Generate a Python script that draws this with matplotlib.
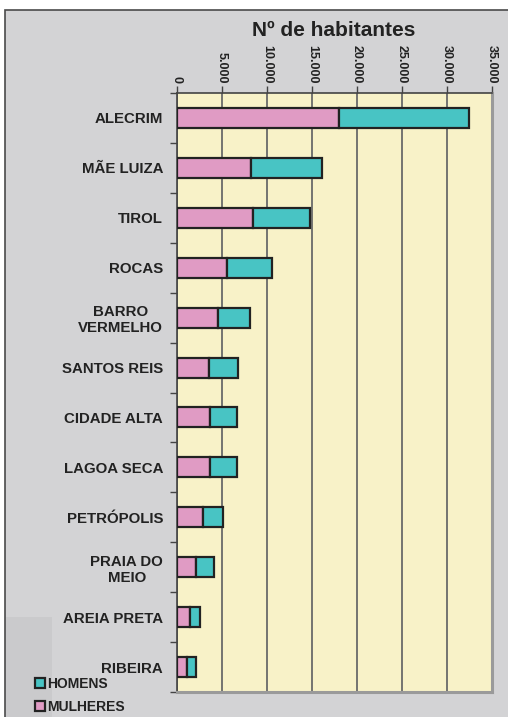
import matplotlib.pyplot as plt
from matplotlib.patches import Rectangle
from matplotlib.ticker import FuncFormatter, FixedLocator
import numpy as np

# Bairros e população por sexo
bairros = ['ALECRIM', 'MÃE LUIZA', 'TIROL', 'ROCAS', 'BARRO\nVERMELHO',
           'SANTOS REIS', 'CIDADE ALTA', 'LAGOA SECA', 'PETRÓPOLIS',
           'PRAIA DO\nMEIO', 'AREIA PRETA', 'RIBEIRA']
mulheres = [18000, 8200, 8400, 5600, 4600, 3600, 3700, 3700, 2900, 2100, 1400, 1100]
homens = [14400, 7900, 6400, 5000, 3500, 3200, 3000, 3000, 2200, 2000, 1200, 1000]

cor_fundo = '#d3d3d5'
cor_plot = '#f8f2c8'
cor_mulheres = '#e09bc4'
cor_homens = '#48c4c4'

plt.rcParams['font.family'] = ['Liberation Sans', 'DejaVu Sans']

fig = plt.figure(figsize=(5.08, 7.17), dpi=100)
fig.patch.set_facecolor('white')

# moldura cinza de fundo
fig.patches.append(Rectangle((4.5 / 508, -0.01), 1.0, 1 - 10.5 / 717 + 0.01,
                             transform=fig.transFigure, facecolor=cor_fundo,
                             edgecolor='#4a4a4a', linewidth=1.2, zorder=0))
fig.patches.append(Rectangle((6 / 508, 0), 46 / 508, 100 / 717,
                             transform=fig.transFigure, facecolor='#cacacc',
                             edgecolor='none', zorder=0.5))

ax = fig.add_axes([177 / 508, 1 - 692 / 717, 315 / 508, 599 / 717])
ax.set_zorder(2)
ax.set_facecolor(cor_plot)

y = np.arange(len(bairros))
altura = 0.4
b_m = ax.barh(y, mulheres, height=altura, color=cor_mulheres,
              edgecolor='#222222', linewidth=1.6, label='MULHERES', zorder=3)
b_h = ax.barh(y, homens, left=mulheres, height=altura, color=cor_homens,
              edgecolor='#222222', linewidth=1.6, label='HOMENS', zorder=3)

ax.set_xlim(0, 35000)
ax.set_ylim(len(bairros) - 0.5, -0.5)

ax.xaxis.tick_top()
ax.set_xticks(np.arange(0, 35001, 5000))
ax.xaxis.set_major_formatter(FuncFormatter(lambda v, p: f'{int(v):,}'.replace(',', '.')))
ax.tick_params(axis='x', which='major', length=5, width=1, color='#444444', pad=2,
               labelsize=9)
for lab in ax.get_xticklabels():
    lab.set_rotation(-90)
    lab.set_fontweight('bold')
    lab.set_color('#222222')

ax.grid(axis='x', color='#6a6a6a', linewidth=1.3, zorder=1)

ax.set_yticks(y)
ax.set_yticklabels(bairros)
ax.yaxis.set_minor_locator(FixedLocator(np.arange(-0.5, len(bairros), 1)))
ax.tick_params(axis='y', which='major', length=0, pad=10, labelsize=10.8)
ax.tick_params(axis='y', which='minor', length=5, width=1, color='#444444')
for lab in ax.get_yticklabels():
    lab.set_fontweight('bold')
    lab.set_multialignment('center')
    lab.set_color('#222222')

for lado in ['top', 'left']:
    ax.spines[lado].set_color('#444444')
    ax.spines[lado].set_linewidth(1.2)
for lado in ['right', 'bottom']:
    ax.spines[lado].set_color('#9a9a9a')
    ax.spines[lado].set_linewidth(2.2)

fig.text(334 / 508, 1 - 30 / 717, 'Nº de habitantes', ha='center', va='center',
         fontsize=15, fontweight='bold', color='#222222')

leg = fig.legend(handles=[b_h, b_m], labels=['HOMENS', 'MULHERES'],
                 loc='lower left', bbox_to_anchor=(35 / 508, 3 / 717),
                 frameon=False, borderpad=0, borderaxespad=0,
                 handlelength=0.75, handleheight=0.8,
                 handletextpad=0.12, labelspacing=0.65,
                 prop={'weight': 'bold', 'size': 10})
leg.set_zorder(3)
for t in leg.get_texts():
    t.set_color('#222222')

fig.savefig('out.png', dpi=100, facecolor=fig.get_facecolor())
